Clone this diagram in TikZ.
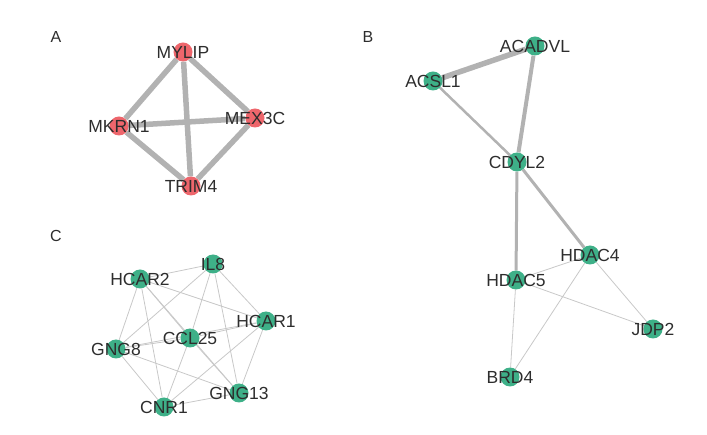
\documentclass[tikz,border=0pt]{standalone}
\usepackage{fontspec}
\setmainfont{Liberation Sans}
\usetikzlibrary{backgrounds}
\definecolor{nodered}{RGB}{238,102,108}
\definecolor{nodegreen}{RGB}{62,176,136}
\definecolor{edgegray}{RGB}{178,178,178}
\definecolor{thingray}{RGB}{200,200,200}
\definecolor{txt}{RGB}{45,45,45}
\tikzset{
  gene/.style={circle,inner sep=0pt,minimum size=19pt,draw=none,
    label={[text=txt,font=\fontsize{17.5}{17.5}\selectfont,inner sep=0pt]center:#1}},
  redgene/.style={gene=#1,fill=nodered},
  greengene/.style={gene=#1,fill=nodegreen},
  heavy/.style={draw=edgegray,line width=5.5pt},
  wide/.style={draw=edgegray,line width=4pt},
  mid/.style={draw=edgegray,line width=3pt},
  medium/.style={draw=edgegray,line width=2.5pt},
  fine/.style={draw=thingray,line width=0.8pt},
  panel/.style={text=txt,font=\fontsize{16}{16}\selectfont,inner sep=0pt}
}
\begin{document}
\begin{tikzpicture}[x=1pt,y=-1pt]
\useasboundingbox (0,0) rectangle (707,435);
% panel labels
\node[panel] (la) at (56,37) {A};
\node[panel] (lb) at (368,37) {B};
\node[panel] (lc) at (56,236) {C};
% panel A
\node[redgene=MYLIP] (mylip) at (183,52) {};
\node[redgene=MKRN1] (mkrn1) at (119,126) {};
\node[redgene=MEX3C] (mex3c) at (255,118) {};
\node[redgene=TRIM4] (trim4) at (191,186) {};
% panel B
\node[greengene=ACADVL] (acadvl) at (535,46) {};
\node[greengene=ACSL1] (acsl1) at (433,81) {};
\node[greengene=CDYL2] (cdyl2) at (517,162) {};
\node[greengene=HDAC4] (hdac4) at (590,255) {};
\node[greengene=HDAC5] (hdac5) at (516,280) {};
\node[greengene=JDP2] (jdp2) at (653,329) {};
\node[greengene=BRD4] (brd4) at (510,377) {};
% panel C
\node[greengene=IL8] (il8) at (213,264) {};
\node[greengene=HCAR2] (hcar2) at (140,279) {};
\node[greengene=HCAR1] (hcar1) at (266,321) {};
\node[greengene=CCL25] (ccl25) at (190,338) {};
\node[greengene=GNG8] (gng8) at (116,349) {};
\node[greengene=GNG13] (gng13) at (239,393) {};
\node[greengene=CNR1] (cnr1) at (164,407) {};
\begin{scope}[on background layer]
% A
\draw[heavy] (mylip) -- (mkrn1);
\draw[heavy] (mylip) -- (mex3c);
\draw[heavy] (mylip) -- (trim4);
\draw[heavy] (mkrn1) -- (mex3c);
\draw[heavy] (mkrn1) -- (trim4);
\draw[heavy] (mex3c) -- (trim4);
% B
\draw[heavy] (acadvl) -- (acsl1);
\draw[wide] (acadvl) -- (cdyl2);
\draw[medium] (acsl1) -- (cdyl2);
\draw[mid] (cdyl2) -- (hdac5);
\draw[mid] (cdyl2) -- (hdac4);
\draw[fine] (hdac5) -- (hdac4);
\draw[fine] (hdac5) -- (jdp2);
\draw[fine] (hdac4) -- (jdp2);
\draw[fine] (hdac4) -- (brd4);
\draw[fine] (hdac5) -- (brd4);
% C
\draw[fine] (hcar2) -- (il8);
\draw[fine] (hcar2) -- (hcar1);
\draw[fine] (hcar2) -- (gng8);
\draw[fine] (hcar2) -- (cnr1);
\draw[fine] (hcar2) -- (ccl25);
\draw[fine] (hcar2) -- (gng13);
\draw[fine] (il8) -- (gng8);
\draw[fine] (il8) -- (ccl25);
\draw[fine] (il8) -- (hcar1);
\draw[fine] (il8) -- (gng13);
\draw[fine] (hcar1) -- (ccl25);
\draw[fine] (hcar1) -- (gng8);
\draw[fine] (hcar1) -- (cnr1);
\draw[fine] (hcar1) -- (gng13);
\draw[fine] (gng8) -- (ccl25);
\draw[fine] (gng8) -- (gng13);
\draw[fine] (gng8) -- (cnr1);
\draw[fine] (cnr1) -- (gng13);
\draw[fine] (cnr1) -- (ccl25);
\draw[fine] (ccl25) -- (gng13);
\end{scope}
\end{tikzpicture}
\end{document}
